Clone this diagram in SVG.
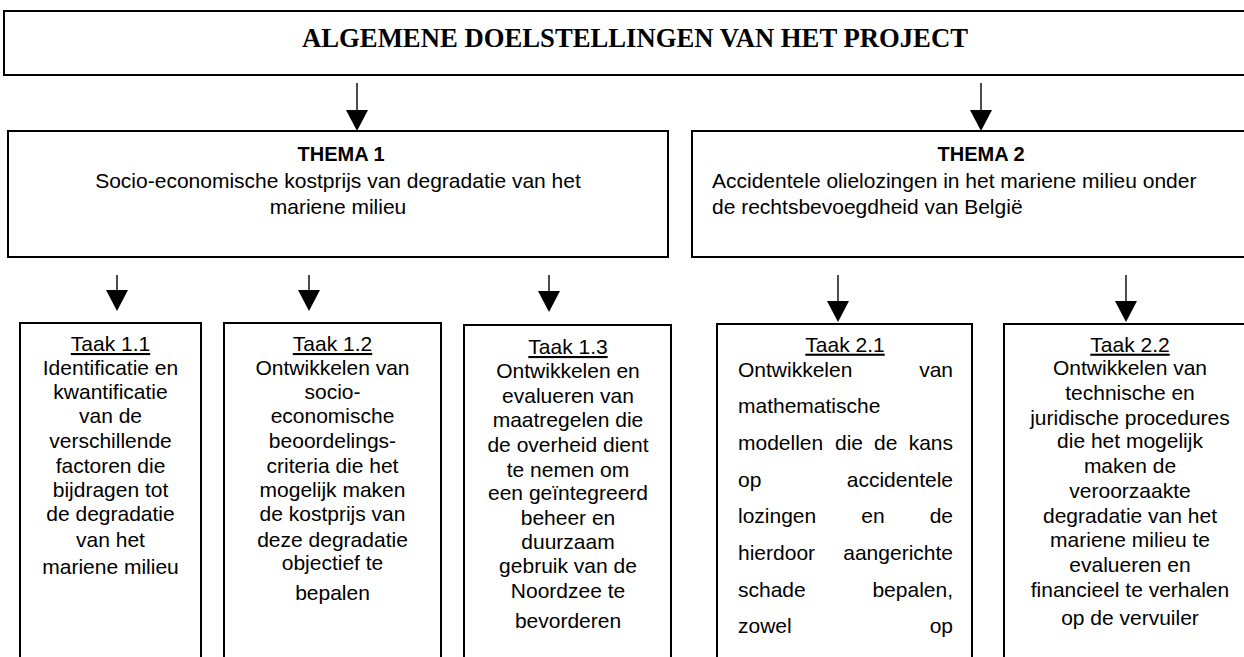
<svg xmlns="http://www.w3.org/2000/svg" xmlns:xlink="http://www.w3.org/1999/xlink" width="1244" height="657" viewBox="0 0 1244 657">
<style>
.box{fill:#fff;stroke:#000;stroke-width:2}
.t{font-family:"Liberation Sans",Arial,sans-serif;font-size:21px;fill:#000}
.c{text-anchor:middle}
.e{text-anchor:end}
.b{font-weight:bold;font-size:20px}
.u{text-decoration:underline}
.title{font-family:"Liberation Serif","Times New Roman",serif;font-weight:bold;font-size:26.5px;text-anchor:middle;fill:#000}
.ln{stroke:#000;stroke-width:1.4;fill:none}
</style>
<defs>
<path id="ah" d="M-11,-21 L11,-21 L0,0 Z" fill="#000"/>
</defs>
<rect width="1244" height="657" fill="#fff"/>
<g id="top">
<rect class="box" x="4" y="11" width="1250" height="64"/>
<text class="title" x="635" y="47" textLength="666" lengthAdjust="spacingAndGlyphs">ALGEMENE DOELSTELLINGEN VAN HET PROJECT</text>
</g>
<g id="thema1">
<rect class="box" x="8" y="131" width="660" height="126"/>
<text class="t c b" x="341" y="161">THEMA 1</text>
<text class="t c" x="338" y="188">Socio-economische kostprijs van degradatie van het</text>
<text class="t c" x="338" y="214">mariene milieu</text>
</g>
<g id="thema2">
<rect class="box" x="692" y="131" width="570" height="126"/>
<text class="t c b" x="981" y="161">THEMA 2</text>
<text class="t" x="712" y="188">Accidentele olielozingen in het mariene milieu onder</text>
<text class="t" x="712" y="214">de rechtsbevoegdheid van België</text>
</g>
<g id="taak11">
<rect class="box" x="20" y="323" width="181" height="350"/>
<text class="t c" x="110.5"><tspan class="u" x="110.5" y="351">Taak 1.1</tspan><tspan x="110.5" y="375">Identificatie en</tspan><tspan x="110.5" y="399.3">kwantificatie</tspan><tspan x="110.5" y="423.3">van de</tspan><tspan x="110.5" y="448.3">verschillende</tspan><tspan x="110.5" y="472.7">factoren die</tspan><tspan x="110.5" y="496.7">bijdragen tot</tspan><tspan x="110.5" y="521">de degradatie</tspan><tspan x="110.5" y="546.7">van het</tspan><tspan x="110.5" y="574.3">mariene milieu</tspan></text>
</g>
<g id="taak12">
<rect class="box" x="224" y="323" width="217" height="350"/>
<text class="t c" x="332.5"><tspan class="u" x="332.5" y="351">Taak 1.2</tspan><tspan x="332.5" y="375">Ontwikkelen van</tspan><tspan x="332.5" y="399.3">socio-</tspan><tspan x="332.5" y="423.3">economische</tspan><tspan x="332.5" y="448.3">beoordelings-</tspan><tspan x="332.5" y="472.7">criteria die het</tspan><tspan x="332.5" y="497">mogelijk maken</tspan><tspan x="332.5" y="521">de kostprijs van</tspan><tspan x="332.5" y="546.7">deze degradatie</tspan><tspan x="332.5" y="570">objectief te</tspan><tspan x="332.5" y="600">bepalen</tspan></text>
</g>
<g id="taak13">
<rect class="box" x="464" y="325" width="207" height="350"/>
<text class="t c" x="568"><tspan class="u" x="568" y="354">Taak 1.3</tspan><tspan x="568" y="378.3">Ontwikkelen en</tspan><tspan x="568" y="402.7">evalueren van</tspan><tspan x="568" y="426.7">maatregelen die</tspan><tspan x="568" y="451.7">de overheid dient</tspan><tspan x="568" y="476.7">te nemen om</tspan><tspan x="568" y="500">een geïntegreerd</tspan><tspan x="568" y="525">beheer en</tspan><tspan x="568" y="549.3">duurzaam</tspan><tspan x="568" y="573.3">gebruik van de</tspan><tspan x="568" y="598.3">Noordzee te</tspan><tspan x="568" y="628.3">bevorderen</tspan></text>
</g>
<g id="taak21">
<rect class="box" x="717" y="324" width="255" height="350"/>
<text class="t c u" x="845" y="351.7">Taak 2.1</text>
<text class="t" x="738" y="376.7">Ontwikkelen</text><text class="t e" x="953" y="376.7">van</text>
<text class="t" x="738" y="413.3">mathematische</text>
<text class="t" x="738" y="450">modellen</text><text class="t" x="835" y="450">die</text><text class="t" x="874" y="450">de</text><text class="t e" x="953" y="450">kans</text>
<text class="t" x="738" y="486.7">op</text><text class="t e" x="953" y="486.7">accidentele</text>
<text class="t" x="738" y="523.3">lozingen</text><text class="t c" x="873" y="523.3">en</text><text class="t e" x="953" y="523.3">de</text>
<text class="t" x="738" y="560">hierdoor</text><text class="t e" x="953" y="560">aangerichte</text>
<text class="t" x="738" y="596.7">schade</text><text class="t e" x="953" y="596.7">bepalen,</text>
<text class="t" x="738" y="633.3">zowel</text><text class="t e" x="953" y="633.3">op</text>
</g>
<g id="taak22">
<rect class="box" x="1004" y="324" width="260" height="350"/>
<text class="t c" x="1130"><tspan class="u" x="1130" y="351.7">Taak 2.2</tspan><tspan x="1130" y="375">Ontwikkelen van</tspan><tspan x="1130" y="400">technische en</tspan><tspan x="1130" y="425">juridische procedures</tspan><tspan x="1130" y="448.3">die het mogelijk</tspan><tspan x="1130" y="473.3">maken de</tspan><tspan x="1130" y="498.3">veroorzaakte</tspan><tspan x="1130" y="523.3">degradatie van het</tspan><tspan x="1130" y="546.7">mariene milieu te</tspan><tspan x="1130" y="571.7">evalueren en</tspan><tspan x="1130" y="596.7">financieel te verhalen</tspan><tspan x="1130" y="625">op de vervuiler</tspan></text>
</g>
<g id="connectors">
<line class="ln" x1="357" y1="83" x2="357" y2="112"/><use xlink:href="#ah" x="357" y="131"/>
<line class="ln" x1="981" y1="83" x2="981" y2="112"/><use xlink:href="#ah" x="981" y="131"/>
<line class="ln" x1="117" y1="275" x2="117" y2="292"/><use xlink:href="#ah" x="117" y="311"/>
<line class="ln" x1="309" y1="275" x2="309" y2="292"/><use xlink:href="#ah" x="309" y="311"/>
<line class="ln" x1="549" y1="275" x2="549" y2="293"/><use xlink:href="#ah" x="549" y="312"/>
<line class="ln" x1="838" y1="275" x2="838" y2="303"/><use xlink:href="#ah" x="838" y="322"/>
<line class="ln" x1="1126" y1="275" x2="1126" y2="303"/><use xlink:href="#ah" x="1126" y="322"/>
</g>
</svg>
